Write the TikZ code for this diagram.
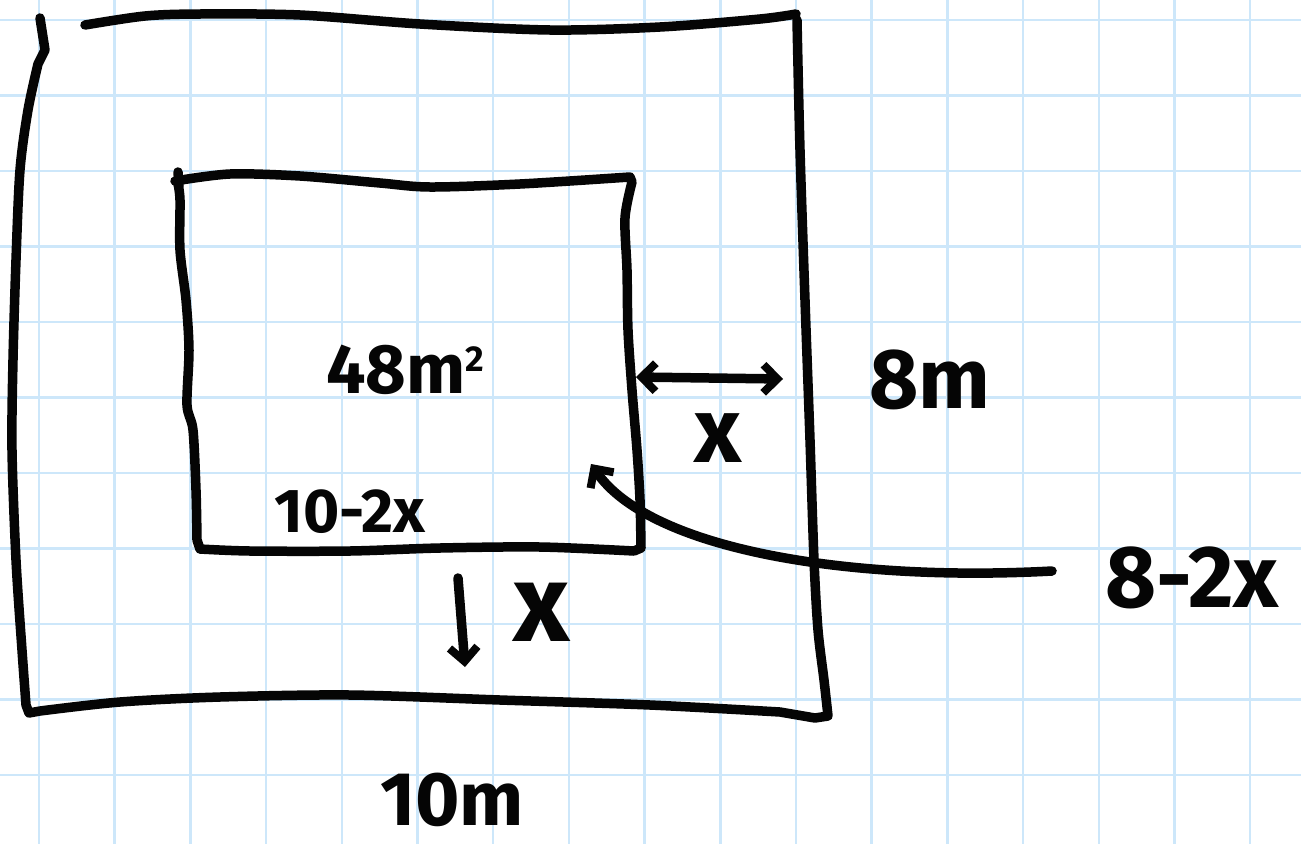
\documentclass[tikz,border=0pt]{standalone}
\usepackage{fontspec}
\setmainfont{Fira Sans}
\usetikzlibrary{arrows.meta}
\definecolor{ink}{HTML}{050505}
\definecolor{gridblue}{HTML}{CDE7FA}
\tikzset{
  pen/.style={draw=ink, line width=9.5pt, line cap=round, line join=round},
  barb/.style={pen, -{Straight Barb[length=14pt, width=28pt, line width=8pt]}},
  twobarb/.style={pen, {Straight Barb[length=14pt, width=28pt, line width=8pt]}-{Straight Barb[length=14pt, width=28pt, line width=8pt]}},
  hand/.style={text=ink, inner sep=0pt, anchor=center}
}

\begin{document}
\begin{tikzpicture}[x=1pt, y=-1pt]
  \useasboundingbox (0,0) rectangle (1301,844);
  \fill[white] (0,0) rectangle (1301,844);

  % grid paper
  \foreach \i in {0,...,16}
    \draw[gridblue, line width=2.5pt] ({39+75.7*\i},0) -- ({39+75.7*\i},844);
  \foreach \j in {0,...,10}
    \draw[gridblue, line width=2.5pt] (0,{20+75.5*\j}) -- (1301,{20+75.5*\j});

  % outer rectangle
  \draw[pen] (40,18) -- (45,50) -- (38,64)
    plot[smooth, tension=0.5] coordinates {(38,64) (28,110) (20,170) (16,260) (13,360) (12,450) (16,560) (22,650) (26,705)}
    -- (29,713) -- (40,711)
    plot[smooth, tension=0.5] coordinates {(40,711) (120,702) (220,697) (350,695) (500,700) (650,705) (780,712)}
    -- (815,718) -- (828,716)
    plot[smooth, tension=0.5] coordinates {(828,716) (824,680) (818,630) (814,560) (810,440) (805,300) (800,150) (797,20)};
  \draw[pen] plot[smooth, tension=0.5] coordinates {(85,25) (145,16) (200,14) (300,15) (420,24) (550,30) (660,27) (760,19) (796,14)};

  % inner rectangle
  \draw[pen] (178,172) -- (179,186);
  \draw[pen] (175,181)
    plot[smooth, tension=0.5] coordinates {(175,181) (230,174) (300,176) (380,183) (430,187) (520,184) (630,177)}
    -- (632,182)
    plot[smooth, tension=0.5] coordinates {(632,182) (625,218) (627,270) (628,330) (632,390) (637,450) (640,500) (641,548)}
    -- (634,551)
    plot[smooth, tension=0.5] coordinates {(634,551) (540,547) (440,548) (350,551) (250,551) (200,549)}
    -- (197,540)
    plot[smooth, tension=0.5] coordinates {(197,540) (196,490) (193,430) (187,405) (189,350) (186,300) (180,250) (180,200) (178,184)};

  % measure arrows
  \coordinate (xl) at (636,377);
  \coordinate (xr) at (783,379);
  \coordinate (dtop) at (458,578);
  \coordinate (dbot) at (465,667);
  \coordinate (tail) at (1052,571);
  \coordinate (tip) at (591,464);
  \draw[twobarb] (xl) -- (xr);
  \draw[barb] (dtop) -- (dbot);
  \draw[barb] (tail) .. controls (850,582) and (650,550) .. (tip);

  % labels
  \node[hand, font=\bfseries\fontsize{70}{70}\selectfont] (area) at (405,370) {48m\raisebox{0.6ex}{\fontsize{36}{36}\selectfont 2}};
  \node[hand, font=\bfseries\fontsize{62}{62}\selectfont] (inw) at (350,512) {10-2x};
  \node[hand, font=\bfseries\fontsize{92}{92}\selectfont] (xside) at (718,438) {x};
  \node[hand, font=\bfseries\fontsize{85}{85}\selectfont] (outh) at (930,380) {8m};
  \node[hand, font=\bfseries\fontsize{88}{88}\selectfont] (inh) at (1192,578) {8-2x};
  \node[hand, font=\bfseries\fontsize{110}{110}\selectfont] (xbot) at (542,612) {x};
  \node[hand, font=\bfseries\fontsize{76}{76}\selectfont] (outw) at (452,800) {10m};
\end{tikzpicture}
\end{document}
